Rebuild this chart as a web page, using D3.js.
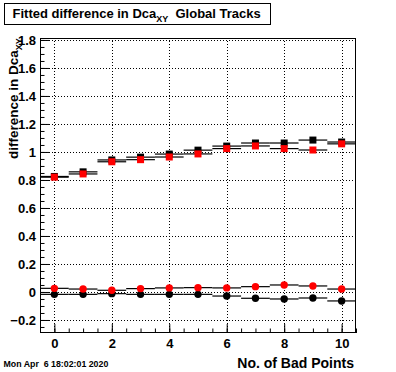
<!DOCTYPE html>
<html><head><meta charset="utf-8">
<script src="https://cdn.jsdelivr.net/npm/d3@7"></script>
<style>body{margin:0;background:#fff}svg{display:block}text{font-family:"Liberation Sans",Arial,sans-serif;font-weight:bold}</style>
</head><body><div id="c"></div>
<script>
const bins = [0,1,2,3,4,5,6,7,8,9,10];
const blackSquares = [0.825,0.858,0.943,0.963,0.985,1.013,1.042,1.064,1.064,1.085,1.071];
const redSquares   = [0.820,0.843,0.930,0.945,0.964,0.986,1.024,1.043,1.024,1.014,1.058];
const redCircles   = [0.026,0.021,0.012,0.024,0.029,0.031,0.029,0.038,0.050,0.043,0.021];
const blackCircles = [-0.017,-0.017,-0.012,-0.017,-0.017,-0.017,-0.029,-0.045,-0.050,-0.043,-0.064];
const xMajorTicks = [0,2,4,6,8,10];
const xTickLabels = ["0","2","4","6","8","10"];
const yMajorTicks = [-0.2,0,0.2,0.4,0.6,0.8,1,1.2,1.4,1.6,1.8];
const yTickLabels = ["\u22120.2","0","0.2","0.4","0.6","0.8","1","1.2","1.4","1.6","1.8"];
const titleMain = "Fitted difference in Dca";
const titleSub = "XY";
const titleTail = "  Global Tracks";
const yTitle = "difference in Dca";
const xTitle = "No. of Bad Points";
const dateText = "Mon Apr  6 18:02:01 2020";

const W=396,H=372;
const svg=d3.select("#c").append("svg").attr("width",W).attr("height",H);
svg.append("rect").attr("width",W).attr("height",H).attr("fill","#fff");
const L=40,R=356,T=38,B=333;
const x=d3.scaleLinear().domain([-0.5,10.5]).range([L,R]);
const y=d3.scaleLinear().domain([-0.293,1.814]).range([B,T]);

// grid
const g=svg.append("g");
g.selectAll(".gx").data(xMajorTicks).enter().append("line")
 .attr("x1",d=>Math.round(x(d))+0.5).attr("x2",d=>Math.round(x(d))+0.5).attr("y1",T).attr("y2",B)
 .attr("stroke","#000").attr("stroke-dasharray","1,2");
g.selectAll(".gy").data(yMajorTicks).enter().append("line")
 .attr("y1",d=>Math.round(y(d))+0.5).attr("y2",d=>Math.round(y(d))+0.5).attr("x1",L).attr("x2",R)
 .attr("stroke","#000").attr("stroke-dasharray","1,2");

// axes
const xMinor=d3.range(-0.5,10.51,0.5);
const yMinor=d3.range(-0.25,1.81,0.05).map(v=>+v.toFixed(2));
const ax=svg.append("g").attr("transform",`translate(0,${B})`);
ax.call(d3.axisBottom(x).tickValues(xMinor).tickSize(-4.5).tickFormat(""));
ax.append("g").call(d3.axisBottom(x).tickValues(xMajorTicks).tickSize(-9).tickPadding(6).tickFormat((d,i)=>xTickLabels[i]));
const ay=svg.append("g").attr("transform",`translate(${L},0)`);
ay.call(d3.axisLeft(y).tickValues(yMinor).tickSize(-4.5).tickFormat(""));
ay.append("g").call(d3.axisLeft(y).tickValues(yMajorTicks).tickSize(-9).tickPadding(4).tickFormat((d,i)=>yTickLabels[i]));
svg.selectAll(".domain").remove();
svg.selectAll(".tick line").attr("stroke","#000");
svg.selectAll(".tick text").attr("font-size",13).attr("fill","#000").style("font-family","'Liberation Sans',Arial,sans-serif").style("font-weight","bold");

// frame
svg.append("rect").attr("x",L+0.5).attr("y",T+0.5).attr("width",R-L-1).attr("height",B-T-1)
 .attr("fill","none").attr("stroke","#000");

// error bars (bin width)
function bars(vals){
  svg.append("g").selectAll("line").data(bins).enter().append("line")
   .attr("x1",d=>x(d-0.5)).attr("x2",d=>x(d+0.5))
   .attr("y1",(d,i)=>y(vals[i])).attr("y2",(d,i)=>y(vals[i]))
   .attr("stroke","#000").attr("stroke-width",1.2);
}
bars(blackSquares);bars(redSquares);bars(blackCircles);bars(redCircles);
function squares(vals,col){
  svg.append("g").selectAll("rect").data(bins).enter().append("rect")
   .attr("x",d=>x(d)-3.5).attr("y",(d,i)=>y(vals[i])-3.5).attr("width",7).attr("height",7).attr("fill",col);
}
function circles(vals,col){
  svg.append("g").selectAll("circle").data(bins).enter().append("circle")
   .attr("cx",d=>x(d)).attr("cy",(d,i)=>y(vals[i])).attr("r",3.7).attr("fill",col);
}
squares(blackSquares,"#000");squares(redSquares,"#f00");
circles(blackCircles,"#000");circles(redCircles,"#f00");

// title box
svg.append("rect").attr("x",4.5).attr("y",3.5).attr("width",266).attr("height",21).attr("fill","#fff").attr("stroke","#000");
const tt=svg.append("text").attr("x",12.5).attr("y",18).attr("font-size",13).attr("fill","#000");
tt.append("tspan").text(titleMain);
tt.append("tspan").attr("font-size",9).attr("dy",4).text(titleSub);
tt.append("tspan").attr("dy",-4).style("white-space","pre").text(titleTail);

// y title
const yt=svg.append("text").attr("transform","translate(18,159) rotate(-90)").attr("font-size",13.5).attr("fill","#000");
yt.append("tspan").text(yTitle);
yt.append("tspan").attr("font-size",9).attr("dy",4).text(titleSub);

// x title
svg.append("text").attr("x",354).attr("y",368).attr("text-anchor","end").attr("font-size",14).attr("fill","#000").text(xTitle);
// date
svg.append("text").attr("x",3.5).attr("y",367).attr("font-size",8.8).attr("fill","#000").style("white-space","pre").text(dateText);
</script></body></html>
